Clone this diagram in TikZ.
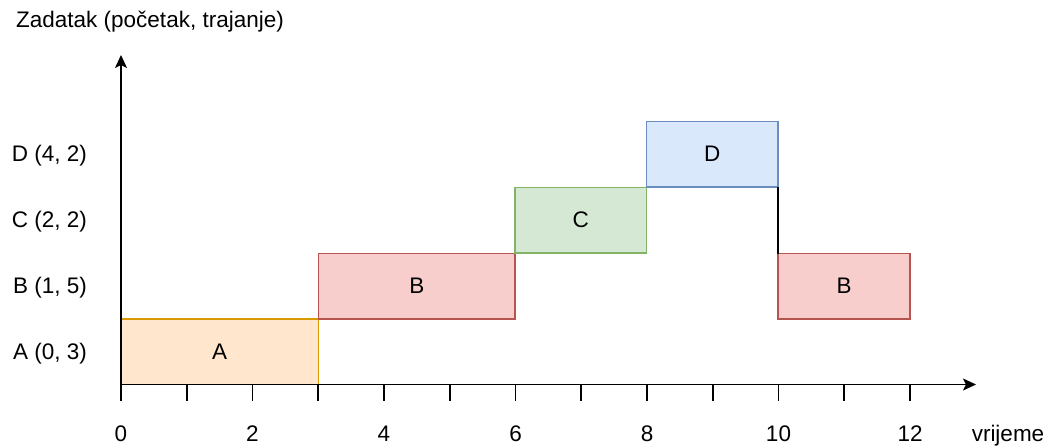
\documentclass[tikz,border=0pt]{standalone}
\usepackage{fontspec}
\setmainfont{Liberation Sans}
\usetikzlibrary{arrows.meta}
\definecolor{aFill}{HTML}{FFE6CC}\definecolor{aLine}{HTML}{D79B00}
\definecolor{bFill}{HTML}{F8CECC}\definecolor{bLine}{HTML}{B85450}
\definecolor{cFill}{HTML}{D5E8D4}\definecolor{cLine}{HTML}{82B366}
\definecolor{dFill}{HTML}{DAE8FC}\definecolor{dLine}{HTML}{6C8EBF}
\begin{document}
\begin{tikzpicture}[x=1pt,y=-1pt,
  txt/.style={font=\fontsize{22.5}{26}\selectfont, inner sep=0pt, text=black},
  task/.style={draw, line width=1.3pt, minimum height=65.5pt, inner sep=0pt, outer sep=0pt, anchor=north west, font=\fontsize{22.5}{26}\selectfont},
  axis/.style={line width=1.6pt, -{Stealth[length=13pt,width=12pt,inset=3pt]}},
  tick/.style={line width=1.6pt}]
\useasboundingbox (0,0) rectangle (1051,447);
% tasks
\node[task, fill=aFill, draw=aLine, minimum width=197.5pt] (A) at (121,319) {A};
\node[task, fill=bFill, draw=bLine, minimum width=196.5pt] (B1) at (318.5,253.5) {B};
\node[task, fill=cFill, draw=cLine, minimum width=131.5pt] (C) at (515,187.5) {C};
\node[task, fill=dFill, draw=dLine, minimum width=131.5pt] (D) at (646.5,121.5) {D};
\node[task, fill=bFill, draw=bLine, minimum width=132pt] (B2) at (778,253.5) {B};
\draw[line width=1.3pt] (D.south east) -- (B2.north west);
% axes
\coordinate (O) at (121,384.5);
\coordinate (Xend) at (976,384.5);
\coordinate (Yend) at (121,55);
\draw[axis] (O) -- (Xend);
\draw[axis] (O) -- (Yend);
\foreach \i in {0,...,12}{
  \draw[tick] (121+65.75*\i,384.5) -- (121+65.75*\i,401);
}
\foreach \i in {0,2,...,12}{
  \node[txt, anchor=base] (xl\i) at (121+65.75*\i,441.5) {\i};
}
\node[txt, anchor=base] (xlab) at (1008,441.5) {vrijeme};
\node[txt, anchor=west] (ylab) at (16,22) {Zadatak (početak, trajanje)};
\node[txt, anchor=east] (lD) at (87,156) {D (4, 2)};
\node[txt, anchor=east] (lC) at (87,222) {C (2, 2)};
\node[txt, anchor=east] (lB) at (87,288) {B (1, 5)};
\node[txt, anchor=east] (lA) at (87,354) {A (0, 3)};
\end{tikzpicture}
\end{document}
